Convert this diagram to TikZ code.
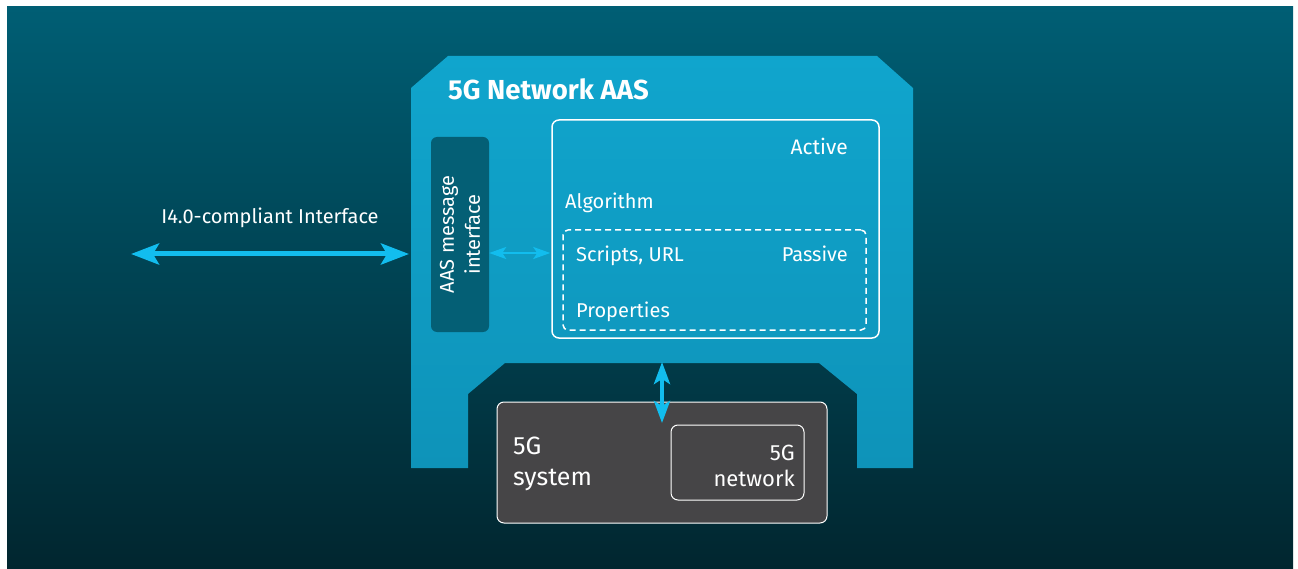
\documentclass[tikz,border=0pt]{standalone}
\usepackage{fontspec}
\setmainfont{Fira Sans}
\usetikzlibrary{arrows.meta,calc}
\definecolor{bgtop}{HTML}{005E74}
\definecolor{bgbot}{HTML}{01262F}
\definecolor{bodytop}{HTML}{10A5CD}
\definecolor{bodybot}{HTML}{0E93B9}
\definecolor{ifcc}{HTML}{045F75}
\definecolor{arrowc}{HTML}{12BDEE}
\definecolor{sysc}{HTML}{464547}
\begin{document}
\begin{tikzpicture}[x=1pt,y=-1pt,
  txt/.style={text=white,inner sep=0pt,font=\fontsize{20}{26}\selectfont},
  bigarrow/.style={draw=arrowc,line width=5pt,{Stealth[length=28pt,width=21pt,inset=6pt]}-{Stealth[length=28pt,width=21pt,inset=6pt]}},
  midarrow/.style={draw=arrowc,line width=4pt,{Stealth[length=22pt,width=16pt,inset=5pt]}-{Stealth[length=22pt,width=16pt,inset=5pt]}},
  smallarrow/.style={draw=arrowc,line width=2.5pt,{Stealth[length=17pt,width=12pt,inset=4pt]}-{Stealth[length=17pt,width=12pt,inset=4pt]}},
  whitebox/.style={draw=white,line width=1.5pt,rounded corners=7pt,inner sep=0pt},
]
\useasboundingbox (0,0) rectangle (1298,569);
\fill[white] (0,0) rectangle (1298,569);
\shade[top color=bgtop,bottom color=bgbot] (7,7) rectangle (1293,569);
% AAS body
\shade[top color=bodytop,bottom color=bodybot]
  (448,56) -- (877,56) -- (913,88) -- (913,468) -- (857,468) -- (857,394)
  -- (819,363) -- (505,363) -- (468,394) -- (468,468) -- (411,468) -- (411,88) -- cycle;
\node[txt,anchor=base west,font=\fontsize{27.5}{32}\selectfont\bfseries] (title) at (448,100) {5G Network AAS};
% interface box
\node[fill=ifcc,rounded corners=6pt,minimum width=58pt,minimum height=195pt,inner sep=0pt] (ifc) at (460,234.5) {};
\node[txt,rotate=90,align=center] (ifctxt) at (ifc.center) {AAS message\\interface};
% active box
\node[whitebox,minimum width=327pt,minimum height=218pt] (act) at (715.5,229) {};
\node[txt,anchor=base east,font=\fontsize{21}{26}\selectfont] (active) at (848,155) {Active};
\node[txt,anchor=base west] (algo) at (565,209) {Algorithm};
% passive dashed box
\node[draw=white,line width=1.5pt,dash pattern=on 6pt off 4pt,rounded corners=5pt,minimum width=303pt,minimum height=100pt,inner sep=0pt] (pas) at (714.5,280) {};
\node[txt,anchor=base west] (scripts) at (576,262) {Scripts, URL};
\node[txt,anchor=base east] (passive) at (848,262) {Passive};
\node[txt,anchor=base west] (props) at (576,317) {Properties};
% 5G system
\node[fill=sysc,draw=white,line width=1pt,rounded corners=7pt,minimum width=330pt,minimum height=121pt,inner sep=0pt] (sys) at (662,462.5) {};
\node[txt,anchor=base west,align=left,font=\fontsize{25}{31}\selectfont] (systxt) at (513,485) {5G\\system};
\node[draw=white,line width=1pt,rounded corners=7pt,minimum width=133pt,minimum height=75pt,inner sep=0pt] (net) at (737.5,462.5) {};
\node[txt,anchor=base east,align=right,font=\fontsize{22}{26}\selectfont] (nettxt) at (795,486) {5G\\network};
% left interface
\node[txt] (i40) at (270,218) {I4.0-compliant Interface};
\coordinate (leftend) at (131,254);
\coordinate (bodyleft) at (409,254);
\draw[bigarrow] (leftend) -- (bodyleft);
% small arrow
\coordinate (ya) at (0,253);
\draw[smallarrow] (ifc.east |- ya) -- ($(act.west |- ya)+(-1,0)$);
% vertical arrow
\coordinate (cuttop) at (662,362);
\coordinate (sysin) at (662,423);
\draw[midarrow] (cuttop) -- (sysin);
\end{tikzpicture}
\end{document}
